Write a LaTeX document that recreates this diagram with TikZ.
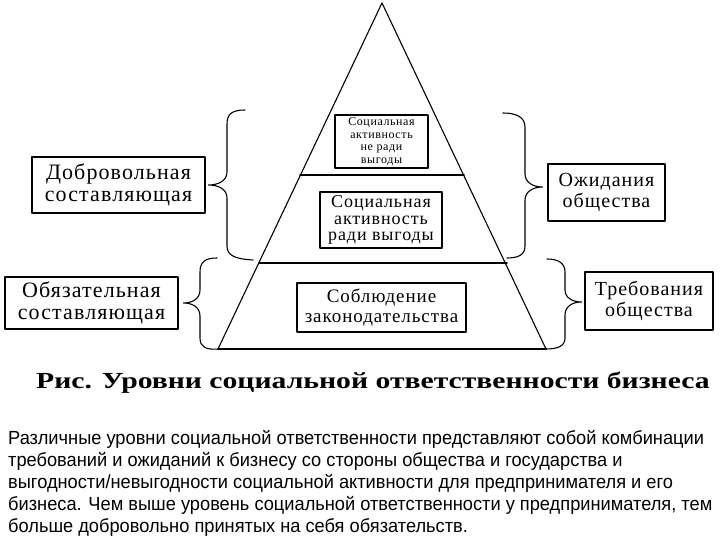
\documentclass[tikz,border=0pt]{standalone}
\usepackage{fontspec}
\setmainfont{Liberation Serif}
\newfontfamily\boxfont[LetterSpace=5]{Liberation Serif}
\newfontfamily\parafont[FakeStretch=0.96]{Liberation Sans}
\newfontfamily\capfont[FakeStretch=1.29]{Liberation Serif}
\usetikzlibrary{calc,positioning}

\tikzset{
	lvlbox/.style={draw, line width=1.3pt, align=center, inner sep=0pt},
	sidebox/.style={draw, line width=1.1pt, align=center, inner sep=0pt},
	bracepath/.style={line width=1.1pt},
}

\begin{document}
\begin{tikzpicture}[
		x=1pt,
		y=-1pt,
		line cap=round,
		line join=round
		]
		
		\useasboundingbox (0,0) rectangle (720,540);
		
		%------------------------------------------------------------------
		% Coordinates
		%------------------------------------------------------------------
		\coordinate (apex) at (382,  3);
		\coordinate (bL)   at (218,349);
		\coordinate (bR)   at (546,349);
		
		\coordinate (lvlAL) at (300,175);
		\coordinate (lvlAR) at (464,175);
		\coordinate (lvlBL) at (259,263);
		\coordinate (lvlBR) at (507,263);
		
		%------------------------------------------------------------------
		% Pyramid
		%------------------------------------------------------------------
		\draw[line width=1.1pt] (bL) -- (apex) -- (bR);
		\draw[line width=1.8pt] (bL) -- (bR);
		\draw[line width=1.8pt] (lvlAL) -- (lvlAR);
		\draw[line width=1.8pt] (lvlBL) -- (lvlBR);
		
		%------------------------------------------------------------------
		% Boxes inside the pyramid
		%------------------------------------------------------------------
		\node[lvlbox, minimum width=93pt, minimum height=53pt,
		font=\boxfont\fontsize{12}{12.5}\selectfont] (topLvl) at (381.5,141.5)
		{Социальная\\активность\\не ради\\выгоды};
		
		\node[lvlbox, minimum width=122pt, minimum height=56pt,
		font=\boxfont\fontsize{18}{16.5}\selectfont] (midLvl) at (381,220)
		{Социальная\\активность\\ради выгоды};
		
		\node[lvlbox, minimum width=169pt, minimum height=49pt,
		font=\boxfont\fontsize{19}{20}\selectfont] (lowLvl) at (381.5,307.5)
		{Соблюдение\\законодательства};
		
		%------------------------------------------------------------------
		% Side boxes
		%------------------------------------------------------------------
		\node[sidebox, minimum width=173pt, minimum height=56pt,
		font=\boxfont\fontsize{22}{22}\selectfont] (dobr) at (118.5,185)
		{Добровольная\\составляющая};
		
		\node[sidebox, minimum width=173pt, minimum height=52pt,
		font=\boxfont\fontsize{22}{22}\selectfont] (obyaz) at (91.5,303)
		{Обязательная\\составляющая};
		
		\node[sidebox, minimum width=117pt, minimum height=57pt,
		font=\boxfont\fontsize{20}{21}\selectfont] (ozhid) at (606.5,192.5)
		{Ожидания\\общества};
		
		\node[sidebox, minimum width=128pt, minimum height=58pt,
		font=\boxfont\fontsize{20}{21}\selectfont] (treb) at (649,301)
		{Требования\\общества};
		
		%------------------------------------------------------------------
		% Braces
		%------------------------------------------------------------------
		% left, voluntary part
		\draw[bracepath] (245,110) .. controls (232,110) and (227,114) .. (227,124)
		-- (227,172) .. controls (227,181) and (218,185) .. ($(dobr.east)+(3,0)$)
		.. controls (218,185) and (227,189) .. (227,198)
		-- (227,246) .. controls (227,256) and (236,259) .. (253,260);
		
		% left, obligatory part
		\draw[bracepath] (217,258) .. controls (205,258) and (200,262) .. (200,272)
		-- (200,290) .. controls (200,299) and (192,303) .. ($(obyaz.east)+(5,0)$)
		.. controls (192,303) and (200,307) .. (200,316)
		-- (200,338) .. controls (200,347) and (206,350) .. (bL);
		
		% right, expectations
		\draw[bracepath] (503,113) .. controls (516,113) and (525,117) .. (525,127)
		-- (525,174) .. controls (525,183) and (534,187) .. ($(ozhid.west)+(-5,-5.5)$)
		.. controls (534,187) and (525,191) .. (525,200)
		-- (525,246) .. controls (525,255) and (518,258) .. (507,258);
		
		% right, requirements
		\draw[bracepath] (547,259) .. controls (558,259) and (565,263) .. (565,272)
		-- (565,290) .. controls (565,298) and (573,302) .. ($(treb.west)+(-3,1)$)
		.. controls (573,302) and (565,306) .. (565,315)
		-- (565,338) .. controls (565,346) and (558,349) .. (bR);
		
		%------------------------------------------------------------------
		% Caption and text
		%------------------------------------------------------------------
		\node[font=\capfont\bfseries\fontsize{23}{25}\selectfont] (caption) at (373,383)
		{Рис. Уровни социальной ответственности бизнеса};
		
		\node[anchor=north west, align=left, inner sep=0pt,
		font=\parafont\fontsize{19}{22}\selectfont] (para) at (8,430)
		{Различные уровни социальной ответственности представляют собой комбинации\\
			требований и ожиданий к бизнесу со стороны общества и государства и\\
			выгодности/невыгодности социальной активности для предпринимателя и его\\
			бизнеса. Чем выше уровень социальной ответственности у предпринимателя, тем\\
			больше добровольно принятых на себя обязательств.};
		
	\end{tikzpicture}
\end{document}
